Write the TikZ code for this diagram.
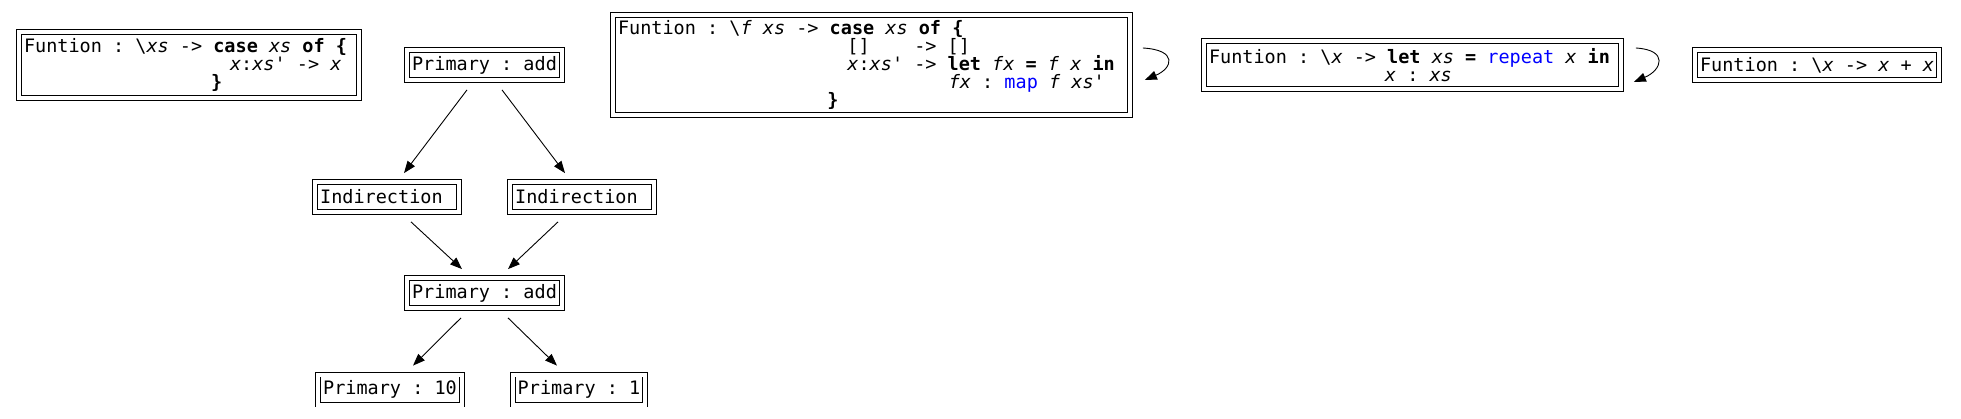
\documentclass[tikz,border=0pt]{standalone}
\usepackage{fontspec}
\setmonofont{DejaVu Sans Mono}
\usetikzlibrary{arrows.meta}
\definecolor{ink}{HTML}{000000}
\definecolor{kwblue}{HTML}{0000FF}
\newcommand\kw[1]{\textbf{#1}}
\newcommand\vr[1]{\textit{#1}}
\newcommand\prim[1]{\textcolor{kwblue}{#1}}
\newcommand\gocol[1]{\hspace*{#1\fontcharwd\font`\x}}
\newcommand\monospaces{\spaceskip=\fontcharwd\font`\x\relax\xspaceskip=\spaceskip}

\begin{document}
\begin{tikzpicture}[x=1pt,y=1pt,
    box/.style={draw=ink,double,double distance=4pt,line width=0.9pt,
      inner xsep=5pt,inner ysep=0pt,outer sep=2.9pt,align=left,
      font=\fontsize{18.5}{18}\selectfont\ttfamily,
      execute at begin node=\monospaces},
    cell/.style={box,minimum height=30pt},
    edge/.style={ink,line width=0.9pt,-{Triangle[length=12pt,width=9pt]}}]
  \useasboundingbox (0,0) rectangle (1961,-419);

  % the four functions
  \node[box,minimum height=66pt,text width=330pt] (fnCase) at (189,-65)
    {Funtion : \textbackslash\vr{xs} -> \kw{case} \vr{xs} \kw{of \{}\\
     \gocol{18.5}\vr{x}:\vr{xs'} -> \vr{x}\\
     \gocol{16.8}\kw{\}}};
  \node[box,minimum height=100pt,text width=507pt] (fnMap) at (871.5,-65)
    {Funtion : \textbackslash\vr{f} \vr{xs} -> \kw{case} \vr{xs} \kw{of \{}\\
     \gocol{20.6}[]\gocol{4}-> []\\
     \gocol{20.6}\vr{x}:\vr{xs'} -> \kw{let} \vr{fx} \kw{=} \vr{f} \vr{x} \kw{in}\\
     \gocol{29.7}\vr{fx} : \prim{map} \vr{f} \vr{xs'}\\
     \gocol{18.8}\kw{\}}};
  \node[box,minimum height=48pt,text width=407pt] (fnRepeat) at (1412.5,-65)
    {Funtion : \textbackslash\vr{x} -> \kw{let} \vr{xs} \kw{=} \prim{repeat} \vr{x} \kw{in}\\
     \gocol{15.8}\vr{x} : \vr{xs}};
  \node[cell] (fnDouble) at (1817,-65)
    {Funtion : \textbackslash\vr{x} -> \vr{x} + \vr{x}};

  % the graph
  \node[cell] (addTop) at (484.5,-65) {Primary : add};
  \node[cell] (indLeft) at (387,-197) {Indirection\gocol{1}};
  \node[cell] (indRight) at (582,-197) {Indirection\gocol{1}};
  \node[cell] (addLow) at (484.5,-293) {Primary : add};
  \node[cell] (litTen) at (390,-389.5) {Primary : 10};
  \node[cell] (litOne) at (579,-389.5) {Primary : 1};

  \draw[edge] ([xshift=-17.5pt,yshift=-7pt]addTop.south) -- ([xshift=17pt,yshift=6pt]indLeft.north);
  \draw[edge] ([xshift=17.5pt,yshift=-7pt]addTop.south) -- ([xshift=-17pt,yshift=6pt]indRight.north);
  \draw[edge] ([xshift=24pt,yshift=-7pt]indLeft.south) -- ([xshift=-22.5pt,yshift=6pt]addLow.north);
  \draw[edge] ([xshift=-24pt,yshift=-7pt]indRight.south) -- ([xshift=23.5pt,yshift=6pt]addLow.north);
  \draw[edge] ([xshift=-23.5pt,yshift=-7pt]addLow.south) -- ([xshift=23pt,yshift=6pt]litTen.north);
  \draw[edge] ([xshift=23.5pt,yshift=-7pt]addLow.south) -- ([xshift=-22pt,yshift=6pt]litOne.north);

  % self loops
  \draw[edge] ([xshift=10pt,yshift=17pt]fnMap.east)
    .. controls +(35,-2) and +(28,12) .. ([xshift=12pt,yshift=-15pt]fnMap.east);
  \draw[edge] ([xshift=12pt,yshift=17pt]fnRepeat.east)
    .. controls +(33,-2) and +(28,12) .. ([xshift=10pt,yshift=-17pt]fnRepeat.east);
\end{tikzpicture}
\end{document}
